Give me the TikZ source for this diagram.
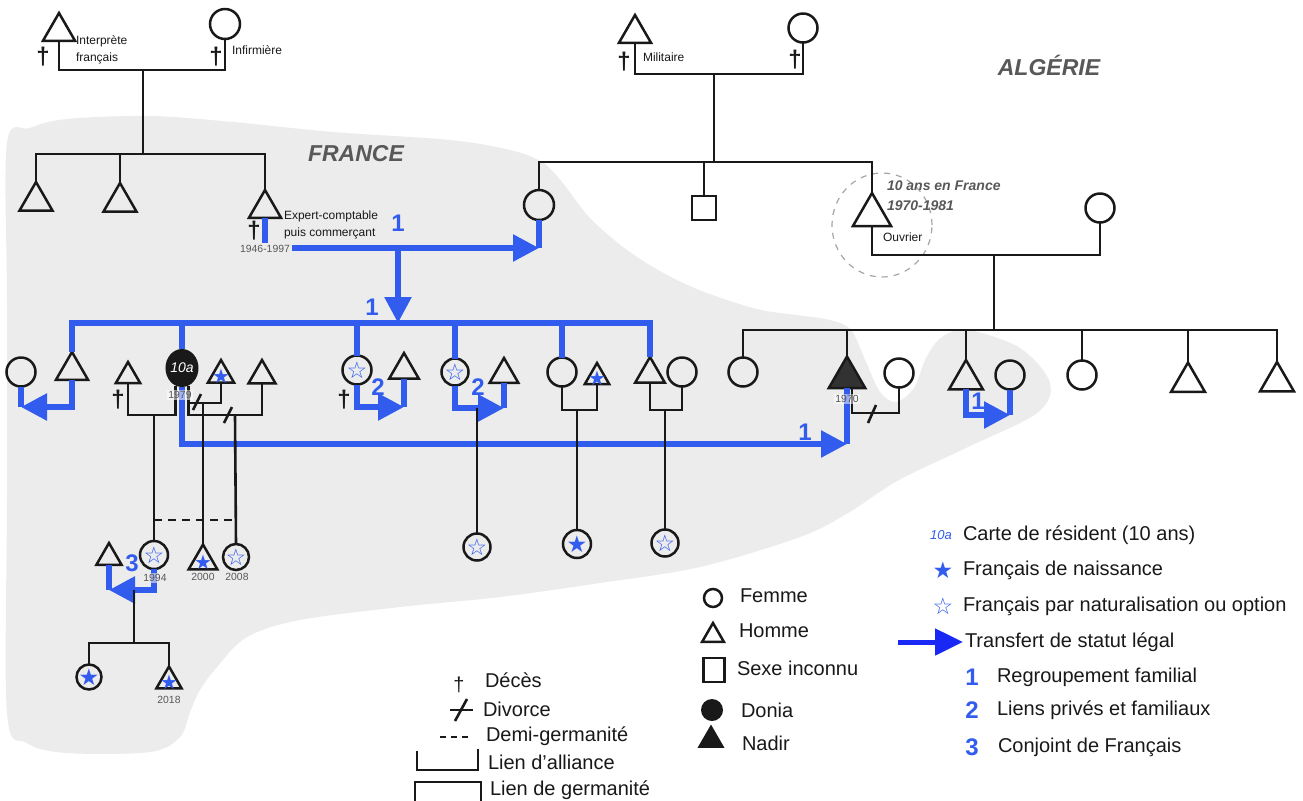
\documentclass[tikz,border=0pt]{standalone}
\usepackage{fontspec}
\setmainfont{Liberation Sans}
\newfontfamily\symfont{DejaVu Sans}
\usetikzlibrary{shapes.geometric,arrows.meta,calc}
\definecolor{bggray}{RGB}{236,236,236}
\definecolor{lblue}{RGB}{50,92,238}
\definecolor{pblue}{RGB}{25,40,245}
\definecolor{dgray}{RGB}{88,88,88}
\definecolor{ink}{RGB}{25,25,25}
\definecolor{nadirc}{RGB}{50,50,50}
\begin{document}
\begin{tikzpicture}[x=0.5pt,y=-0.5pt,
  every node/.style={inner sep=0pt, outer sep=0pt},
  kin/.style={draw=ink, line width=1.25pt},
  femme/.style={kin, circle, minimum size=14.5pt},
  homme/.style={kin, regular polygon, regular polygon sides=3, minimum size=#1},
  homme/.default=18.5pt,
  line/.style={draw=ink, line width=1.3pt},
  bline/.style={draw=lblue, line width=2.8pt},
  barrow/.style={bline, -{Triangle[length=13pt,width=13pt]}},
  small/.style={font=\fontsize{6}{8.5}\selectfont, text=ink},
  datelbl/.style={font=\fontsize{5.2}{6}\selectfont, text=dgray},
  cross/.style={font=\fontsize{12}{12}\selectfont\bfseries, text=ink},
  num/.style={font=\fontsize{12}{12}\selectfont\bfseries, text=lblue},
  leg/.style={font=\fontsize{10}{12}\selectfont, text=ink, anchor=west},
  stf/.style={font=\symfont\fontsize{11.5}{11.5}\selectfont, text=lblue},
  stfs/.style={font=\symfont\fontsize{10}{10}\selectfont, text=lblue},
  country/.style={font=\fontsize{11.5}{12}\selectfont\bfseries\itshape, text=dgray}
]
\useasboundingbox (0,0) rectangle (1303,800);
\fill[white] (0,0) rectangle (1303,800);
\fill[bggray] plot[smooth cycle, tension=0.55] coordinates {(7,143) (30,128) (67,119) (150,116) (233,122) (333,132) (450,140) (510,150) (542,162) (562,182) (589,217) (623,247) (658,270) (692,287) (727,300) (761,310) (796,315) (830,320) (851,330) (866,362) (880,392) (896,402) (914,388) (926,358) (942,337) (968,330) (1020,348) (1050,383) (1037,413) (968,447) (899,480) (848,513) (800,537) (700,567) (600,583) (500,597) (400,607) (300,620) (247,637) (217,667) (200,690) (190,712) (180,737) (150,752) (67,753) (27,743) (7,713) (7,500) (7,300)};

\node[country] (fr) at (356,154) {FRANCE};
\node[country] (alg) at (1049,65) {ALGÉRIE};

% ---------- generation 1, left
\node[homme] (gf1) at (59,31.5) {};
\node[femme, minimum size=15pt] (gm1) at (225,24) {};
\node[small, anchor=west, align=left] (lbInt) at (76,50) {Interprète\\français};
\node[cross] (x1) at (43,57) {†};
\node[cross] (x2) at (216,57) {†};
\node[small, anchor=west] (lbInf) at (232,50) {Infirmière};
\coordinate (m1) at (143,70);
\coordinate (sib1) at (143,154);
\node[homme=19pt] (c1) at (36,201) {};
\node[homme=19pt] (c2) at (120,202) {};
\node[homme] (c3) at (265,208.5) {};
\node[small, anchor=west, align=left] (lbExp) at (284,225) {Expert-comptable\\puis commerçant};
\node[cross] (x3) at (254,231) {†};
\draw[line] (gf1.south) |- (m1) -| (gm1.south);
\draw[line] (m1) -- (sib1);
\draw[line] (c1.north) -- (c1.north |- sib1) -- (c3.north |- sib1) -- (c3.north);
\draw[line] (c2.north) -- (c2.north |- sib1);

% ---------- generation 1, right
\node[homme] (gf2) at (635,33.5) {};
\node[femme] (gm2) at (803,28) {};
\node[cross] (x4) at (624,62) {†};
\node[cross] (x5) at (795,60) {†};
\node[small, anchor=west] (lbMil) at (643,57) {Militaire};
\coordinate (m2) at (714,74);
\coordinate (sib2) at (714,162);
\draw[line] (gf2.south) |- (m2) -| (gm2.south);
\draw[line] (m2) -- (sib2);
\node[femme, minimum size=15pt] (d1) at (539,205) {};
\node[kin, rectangle, minimum size=12pt] (d2) at (704,208) {};
\node[draw=gray!70, dashed, line width=0.6pt, ellipse, minimum width=50pt, minimum height=52pt] (circ) at (882,225) {};
\node[homme=22pt] (ouv) at (872,215) {};
\node[femme] (ouvw) at (1100,208) {};
\node[font=\fontsize{7}{10}\selectfont\bfseries\itshape, text=dgray, anchor=west, align=left] (lb10) at (887,196) {10 ans en France\\1970-1981};
\node[small, anchor=west] (lbOuv) at (883,237) {Ouvrier};
\draw[line] (d1.north) -- (d1.north |- sib2) -- (ouv.north |- sib2) -- (ouv.north);
\draw[line] (d2.north) -- (d2.north |- sib2);
\coordinate (m3) at (994,255);
\coordinate (sib3) at (994,330);
\draw[line] (ouv.south) |- (m3) -| (ouvw.south);
\draw[line] (m3) -- (sib3);

% ---------- children of Ouvrier
\node[femme] (o1) at (743,372) {};
\node[homme=21pt, fill=nadirc] (nadir) at (847,377.5) {};
\node[femme] (nw) at (899,373) {};
\node[homme=19.5pt] (o4) at (966,379.5) {};
\node[femme] (o4w) at (1010,375) {};
\node[femme] (o6) at (1082,375) {};
\node[homme=19.5pt] (o7) at (1188,382) {};
\node[homme=19.5pt] (o8) at (1277,381.5) {};
\draw[line] (o1.north) -- (o1.north |- sib3) -- (o8.north |- sib3) -- (o8.north);
\foreach \n in {nadir,o4,o6,o7} \draw[line] (\n.north) -- (\n.north |- sib3);
\coordinate (mN) at (878,413);
\draw[line] ($(nadir.south)+(5,0)$) |- (mN) -| (nw.south);
\draw[line] (868,423) -- (876,405);
\coordinate (aO) at (1010,415);
\draw[barrow] (o4.south) |- (aO);
\draw[bline] (aO) -- (o4w.south);
\node[num] (n1d) at (978,401) {1};

% ---------- generation 2 (France)
\node[femme] (k1w) at (21,372) {};
\node[homme] (k1) at (72,370.5) {};
\node[ellipse, fill=ink, minimum width=16.5pt, minimum height=19pt, text=white, font=\fontsize{7}{7}\selectfont\itshape] (donia) at (182,368) {10a};
\node[homme=14pt] (ta) at (128,376) {};
\node[cross] (x6) at (118,400) {†};
\node[homme=15pt] (tb) at (221,375) {};
\node[homme=15.5pt] (tc) at (262,375.5) {};
\node[femme] (k3) at (357,370) {};
\node[homme=17pt] (k3h) at (404,370) {};
\node[cross] (x7) at (344,400) {†};
\node[femme, minimum size=13.5pt] (k4) at (455,372) {};
\node[homme=16.5pt] (k4h) at (504,374.5) {};
\node[femme] (k5) at (562,372) {};
\node[homme=14pt] (k5h) at (597,377) {};
\node[homme=17pt] (k6) at (650,374) {};
\node[femme] (k6w) at (682,372) {};

% blue: parents and sibling bar
\coordinate (cm) at (398,248);
\coordinate (bar) at (0,323);
\draw[barrow] (c3.south) |- (d1.south |- cm);
\draw[bline] (d1.south |- cm) -- (d1.south);
\draw[barrow] (cm) -- (cm |- bar);
\node[num] (n1a) at (398,223) {1};
\node[num] (n1b) at (372,307) {1};
\draw[bline] (k1.north) -- (k1.north |- bar) -- (k6.north |- bar) -- (k6.north);
\foreach \n in {donia,k3,k4,k5} \draw[bline] (\n.north) -- (\n.north |- bar);

% blue arrows of generation 2
\coordinate (ak1) at (21,407);
\draw[barrow] (k1.south) |- (ak1);
\draw[bline] (ak1) -- (k1w.south);
\coordinate (ak3) at (404,407);
\draw[barrow] (k3.south) |- (ak3);
\draw[bline] (ak3) -- (k3h.south);
\node[num] (n2a) at (378,387) {2};
\coordinate (ak4) at (504,408);
\draw[barrow] (k4.south) |- (ak4);
\draw[bline] (ak4) -- (k4h.south);
\node[num] (n2b) at (478,387) {2};
\coordinate (aN) at (847,444);
\draw[barrow] (donia.south) |- (nadir.south |- aN);
\draw[bline] (nadir.south |- aN) -- (nadir.south);
\node[num] (n1c) at (805,432) {1};

% ---------- generation 3
\node[femme, minimum size=14pt] (g94) at (154,555) {};
\node[homme=16.5pt] (g00) at (203,561) {};
\node[femme, minimum size=13pt] (g08) at (236,557) {};
\node[homme=14.5pt] (g94h) at (109,557.5) {};
\node[femme, minimum size=13.5pt] (h1) at (477,547) {};
\node[femme, minimum size=14pt] (h2) at (577,544) {};
\node[femme, minimum size=13.5pt] (h3) at (665,543) {};
\node[femme, minimum size=12.5pt] (gc1) at (89,677) {};
\node[homme=14.5pt] (gc2) at (169,681) {};

% Donia's unions
\coordinate (mA) at (154,415);
\coordinate (mB) at (203,403);
\coordinate (mC) at (235,415);
\coordinate (hg) at (0,520);
\draw[line] (ta.south) |- (mA) -| (donia.250);
\draw[line] (donia.290) |- (mB) -| (tb.south);
\draw[line] (donia.290) |- (mC) -| (tc.south);
\draw[line] (193,410) -- (201,394);
\draw[line] (224,423) -- (232,407);
\draw[line] (mA) -- (g94.north);
\draw[line] (mB) -- (g00.north);
\draw[line] (mC) -- (g08.north);
\draw[line, line width=1.1pt, dash pattern=on 4pt off 3pt] (mA |- hg) -- (mC |- hg);

% other unions
\coordinate (dk4) at (477,408);
\draw[line] (dk4) -- (h1.north);
\coordinate (mk5) at (577,410);
\draw[line] (k5.south) |- (mk5) -| (k5h.south);
\draw[line] (mk5) -- (h2.north);
\coordinate (mk6) at (665,410);
\draw[line] (k6.south) |- (mk6) -| (k6w.south);
\draw[line] (mk6) -- (h3.north);

% 1994 couple
\coordinate (a94) at (109,590);
\draw[barrow] (g94.south) |- (a94);
\draw[bline] (a94) -- (g94h.south);
\node[num] (n3) at (132,563) {3};
\coordinate (m94) at (134,590);
\coordinate (sib4) at (134,643);
\draw[line] (m94) -- (sib4);
\draw[line] (gc1.north) |- (sib4) -| (gc2.north);

% stars
\node[stf] (s1) at (k3) {☆};
\node[stf] (s2) at (k4) {☆};
\node[stfs] (s3) at ($(tb)+(0,1)$) {★};
\node[stfs] (s4) at ($(k5h)+(0,1)$) {★};
\node[stf] (s5) at (g94) {☆};
\node[stfs] (s6) at ($(g00)+(0,1)$) {★};
\node[stf] (s7) at (g08) {☆};
\node[stf] (s8) at (gc1) {★};
\node[stfs] (s9) at ($(gc2)+(0,1)$) {★};
\node[stf] (s10) at (h1) {☆};
\node[stf] (s11) at (h2) {★};
\node[stf] (s12) at (h3) {☆};

% dates
\node[datelbl, fill=bggray, inner sep=1pt] (dt1) at (265,249) {1946-1997};
\node[datelbl, fill=white, fill opacity=0.55, text opacity=1, inner sep=0.8pt] (dt2) at (180,395) {1979};
\node[datelbl, fill=white, fill opacity=0.5, text opacity=1, inner sep=0.8pt] (dt3) at (847,399) {1970};
\node[datelbl, fill=bggray, fill opacity=0.6, text opacity=1, inner sep=0.8pt] (dt4) at (155,578) {1994};
\node[datelbl] (dt5) at (203,577) {2000};
\node[datelbl] (dt6) at (237,577) {2008};
\node[datelbl] (dt7) at (169,700) {2018};

% ---------- legend, left
\node[font=\fontsize{10}{10}\selectfont, text=ink] (lX) at (459,685) {†};
\node[leg] (tX) at (485,680) {Décès};
\coordinate (dv1) at (450,710);
\coordinate (dv2) at (473,710);
\draw[line] (dv1) -- (dv2);
\draw[line] (455,721) -- (467,699);
\node[leg] (tDv) at (483,709) {Divorce};
\coordinate (dg1) at (440,737);
\coordinate (dg2) at (472,737);
\draw[line, line width=1.1pt, dash pattern=on 3pt off 2.5pt] (dg1) -- (dg2);
\node[leg] (tDg) at (486,736) {Demi-germanité};
\draw[line] (417,751) -- (417,770) -- (478,770) -- (478,749);
\node[leg] (tLa) at (488,762) {Lien d’alliance};
\draw[line] (415,801) -- (415,782) -- (481,782) -- (481,801);
\node[leg] (tLg) at (490,790) {Lien de germanité};

% ---------- legend, middle
\node[femme, minimum size=9pt] (lF) at (713,598) {};
\node[leg] (tF) at (740,596) {Femme};
\node[homme=12.5pt] (lH) at (713,635.5) {};
\node[leg] (tH) at (739,631) {Homme};
\node[kin, rectangle, minimum width=10.5pt, minimum height=12pt] (lS) at (714,670) {};
\node[leg] (tS) at (737,668) {Sexe inconnu};
\node[circle, fill=ink, minimum size=11pt] (lD) at (712,710) {};
\node[leg] (tD) at (741,710) {Donia};
\node[homme=13pt, fill=ink] (lN) at (711,740) {};
\node[leg] (tN) at (742,743) {Nadir};

% ---------- legend, right
\node[font=\fontsize{6.5}{7}\selectfont\itshape, text=lblue] (l10) at (941,535) {10a};
\node[leg] (t10) at (963,535) {Carte de résident (10 ans)};
\node[stf] (lS1) at (943,570) {★};
\node[leg] (tS1) at (963,570) {Français de naissance};
\node[stf] (lS2) at (943,606) {☆};
\node[leg] (tS2) at (963,606) {Français par naturalisation ou option};
\coordinate (la1) at (898,642);
\node[leg] (tA) at (965,642) {Transfert de statut légal};
\draw[draw=pblue, line width=2.5pt, -{Triangle[length=14pt,width=13pt]}, shorten >=1pt] (la1) -- (tA.west);
\node[num] (l1) at (972,677) {1};
\node[leg] (t1) at (997,677) {Regroupement familial};
\node[num] (l2) at (972,710) {2};
\node[leg] (t2) at (997,710) {Liens privés et familiaux};
\node[num] (l3) at (972,747) {3};
\node[leg] (t3) at (998,747) {Conjoint de Français};
\end{tikzpicture}
\end{document}
